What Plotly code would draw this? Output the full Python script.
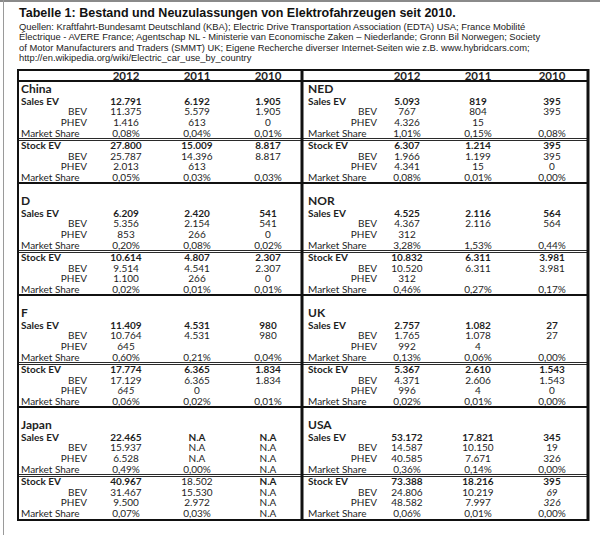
import plotly.graph_objects as go

YEARS = ["2012", "2011", "2010"]
NA = "N.A"

# left column of the table, then right column
COUNTRIES = ["China", "D", "F", "Japan", "NED", "NOR", "UK", "USA"]

SALES_EV = [[12791, 6192, 1905], [6209, 2420, 541], [11409, 4531, 980], [22465, NA, NA],
            [5093, 819, 395], [4525, 2116, 564], [2757, 1082, 27], [53172, 17821, 345]]
SALES_BEV = [[11375, 5579, 1905], [5356, 2154, 541], [10764, 4531, 980], [15937, NA, NA],
             [767, 804, 395], [4367, 2116, 564], [1765, 1078, 27], [14587, 10150, 19]]
SALES_PHEV = [[1416, 613, 0], [853, 266, 0], [645, None, None], [6528, NA, NA],
              [4326, 15, None], [312, None, None], [992, 4, None], [40585, 7671, 326]]
SALES_SHARE = [[0.08, 0.04, 0.01], [0.20, 0.08, 0.02], [0.60, 0.21, 0.04], [0.49, 0.00, NA],
               [1.01, 0.15, 0.08], [3.28, 1.53, 0.44], [0.13, 0.06, 0.00], [0.36, 0.14, 0.00]]

STOCK_EV = [[27800, 15009, 8817], [10614, 4807, 2307], [17774, 6365, 1834], [40967, 18502, NA],
            [6307, 1214, 395], [10832, 6311, 3981], [5367, 2610, 1543], [73388, 18216, 395]]
STOCK_BEV = [[25787, 14396, 8817], [9514, 4541, 2307], [17129, 6365, 1834], [31467, 15530, NA],
             [1966, 1199, 395], [10520, 6311, 3981], [4371, 2606, 1543], [24806, 10219, 69]]
STOCK_PHEV = [[2013, 613, None], [1100, 266, 0], [645, 0, None], [9500, 2972, NA],
              [4341, 15, 0], [312, None, None], [996, 4, 0], [48582, 7997, 326]]
STOCK_SHARE = [[0.05, 0.03, 0.03], [0.02, 0.01, 0.01], [0.06, 0.02, 0.01], [0.07, 0.03, NA],
               [0.08, 0.01, 0.00], [0.46, 0.27, 0.17], [0.02, 0.01, 0.00], [0.06, 0.01, 0.00]]

ROW_LABELS = ["Sales EV", "BEV", "PHEV", "Market Share", "Stock EV", "BEV", "PHEV", "Market Share"]

TITLE = "Tabelle 1: Bestand und Neuzulassungen von Elektrofahrzeugen seit 2010."
SOURCES = [
    "Quellen: Kraftfahrt-Bundesamt Deutschland (KBA); Electric Drive Transportation Association (EDTA) USA; France Mobilité",
    "Électrique - AVERE France; Agentschap NL - Ministerie van Economische Zaken – Niederlande; Gronn Bil Norwegen; Society",
    "of Motor Manufacturers and Traders (SMMT) UK; Eigene Recherche diverser Internet-Seiten wie z.B. www.hybridcars.com;",
    "http://en.wikipedia.org/wiki/Electric_car_use_by_country",
]

# cells shown in italics / not bold in the original
ITALIC = {("F", 6, 0), ("USA", 5, 2), ("USA", 6, 2)}
NOT_BOLD = {("Japan", 4, 1)}


def fmt(v):
    if v is None:
        return ""
    if isinstance(v, str):
        return v
    if isinstance(v, float):
        return f"{v:.2f}".replace(".", ",") + "%"
    return f"{v:,}".replace(",", ".")


# layout (pixels)
FONT = "Lato"
INK = "#1e1e1e"
LEFT, MID, RIGHT = 18, 302, 588
TOP, HEAD_BOTTOM, BOTTOM = 70, 81, 520
LABEL_X = [21, 308]
SUB_X = [87, 377]
COL_X = [[126, 197, 268], [407, 478, 552]]
ROW_OFF = [20, 30.7, 41.3, 52, 64.5, 75, 85.5, 96]
COUNTRY_OFF, DOUBLE_OFF, BLOCK_H, LEAD = 7.5, 58.5, 102, 10

groups = {"c": ([], [], [], []), "l": ([], [], [], []), "r": ([], [], [], [])}


def put(g, x, y, text, size):
    xs, ys, ts, ss = groups[g]
    xs.append(x)
    # plotly puts the baseline 0.25em below the point; centre the caps instead
    ys.append(y + 0.11 * size)
    ts.append(text)
    ss.append(size)


shapes = []


def hline(y, x0, x1, w=1, color="#111"):
    shapes.append(dict(type="line", xref="x", yref="y", x0=x0, x1=x1, y0=y, y1=y,
                       line=dict(color=color, width=w)))


def vline(x, y0, y1, w=1, color="#111"):
    shapes.append(dict(type="line", xref="x", yref="y", x0=x, x1=x, y0=y0, y1=y1,
                       line=dict(color=color, width=w)))


series = [SALES_EV, SALES_BEV, SALES_PHEV, SALES_SHARE, STOCK_EV, STOCK_BEV, STOCK_PHEV, STOCK_SHARE]

for panel in range(2):
    for j, yr in enumerate(YEARS):
        put("c", COL_X[panel][j], (TOP + HEAD_BOTTOM) / 2, f"<b>{yr}</b>", 11.5)

for k, country in enumerate(COUNTRIES):
    panel, blk = divmod(k, 4)
    top = HEAD_BOTTOM + blk * (BLOCK_H + LEAD)
    put("l", LABEL_X[panel], top + COUNTRY_OFF, f"<b>{country}</b>", 12)
    for r, lab in enumerate(ROW_LABELS):
        y = top + ROW_OFF[r]
        if lab in ("BEV", "PHEV"):
            put("r", SUB_X[panel], y, lab, 10)
        elif r in (0, 4):
            put("l", LABEL_X[panel], y, f"<b>{lab}</b>", 10)
        else:
            put("l", LABEL_X[panel], y, lab, 10)
        for j in range(3):
            t = fmt(series[r][k][j])
            if not t:
                continue
            if (country, r, j) in ITALIC:
                t = f"<i>{t}</i>"
            if r in (0, 4) and (country, r, j) not in NOT_BOLD:
                t = f"<b>{t}</b>"
            put("c", COL_X[panel][j], y, t, 10)
    if panel == 0:
        dy = int(top + DOUBLE_OFF)
        hline(dy - 0.5, LEFT, RIGHT, 1, "#2a2a2a")
        hline(dy + 1.5, LEFT, RIGHT, 1, "#2a2a2a")
        if blk < 3:
            hline(top + BLOCK_H, LEFT, RIGHT, 2)

fig = go.Figure()
pos = {"c": "middle center", "l": "middle right", "r": "middle left"}
for g, (xs, ys, ts, ss) in groups.items():
    fig.add_trace(go.Scatter(
        x=xs, y=ys, text=ts, mode="text", textposition=pos[g],
        textfont=dict(family=FONT, size=ss, color=INK),
        hoverinfo="skip", showlegend=False,
    ))

hline(TOP, LEFT, RIGHT, 2)
hline(HEAD_BOTTOM, LEFT, RIGHT, 2)
hline(BOTTOM, LEFT, RIGHT, 2)
vline(LEFT, TOP - 1, BOTTOM + 1, 2)
vline(MID, TOP - 1, BOTTOM + 1, 3)
vline(RIGHT, TOP - 1, BOTTOM + 1, 3)

# faint photo frame at the top and left edge
shapes.append(dict(type="line", xref="paper", yref="paper", x0=0, x1=1, y0=0.998, y1=0.998,
                   line=dict(color="#8a8a8a", width=2)))
shapes.append(dict(type="line", xref="x", yref="paper", x0=3.5, x1=3.5, y0=0, y1=1,
                   line=dict(color="#9a9a9a", width=1)))

annotations = [dict(xref="x", yref="y", x=17, y=13, xanchor="left", yanchor="middle",
                    text=f"<b>{TITLE}</b>", showarrow=False,
                    font=dict(family="Liberation Sans", size=12.5, color="#111"))]
for i, line in enumerate(SOURCES):
    annotations.append(dict(xref="x", yref="y", x=17, y=26 + i * 10.5, xanchor="left",
                            yanchor="middle", text=line, showarrow=False,
                            font=dict(family="Liberation Sans", size=9.4, color="#222")))

fig.update_layout(
    width=600, height=535,
    margin=dict(l=0, r=0, t=0, b=0),
    paper_bgcolor="white", plot_bgcolor="white",
    xaxis=dict(range=[0, 600], visible=False, fixedrange=True),
    yaxis=dict(range=[535, 0], visible=False, fixedrange=True),
    shapes=shapes, annotations=annotations,
)
fig.write_html("out.html", config={"displayModeBar": False},
               post_script="document.body.style.margin='0';")
